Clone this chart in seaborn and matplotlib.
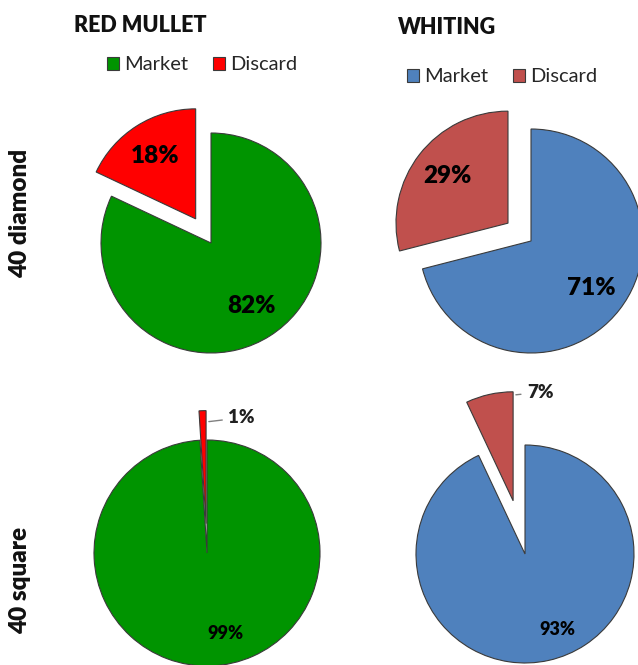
import matplotlib.pyplot as plt
import seaborn as sns
from matplotlib.patches import Patch
import numpy as np

sns.set_theme(style="white")
plt.rcParams['font.family'] = ['Lato', 'DejaVu Sans']

# data
species = ["RED MULLET", "WHITING"]
meshes = ["40 diamond", "40 square"]
categories = ["Market", "Discard"]
red_mullet = [[82, 18], [99, 1]]
whiting = [[71, 29], [93, 7]]

W, H = 638, 665
fig = plt.figure(figsize=(W / 100, H / 100), dpi=100)

colors = {"RED MULLET": ["#009400", "#FF0000"],
          "WHITING": ["#4F81BD", "#C0504D"]}
edge = "#3a3a3a"

# pie centre (px, from top left), radius px, explode of discard slice
layout = [[(211, 243, 110, 0.26), (531, 241, 112, 0.26)],
          [(207, 553, 113, 0.26), (525, 554, 109, 0.50)]]


def pie_axes(cx, cy, r, lim=1.7):
    ax = fig.add_axes([(cx - lim * r) / W, 1 - (cy + lim * r) / H,
                       2 * lim * r / W, 2 * lim * r / H])
    return ax, lim


for j, name in enumerate(species):
    values = red_mullet if name == "RED MULLET" else whiting
    for i, mesh in enumerate(meshes):
        cx, cy, r, ex = layout[i][j]
        ax, lim = pie_axes(cx, cy, r)
        big = i == 0
        wedges, _, pcts = ax.pie(
            values[i], colors=colors[name], startangle=90, counterclock=False,
            explode=[0, ex], autopct="%d%%",
            pctdistance=0.68 if big else 0.74,
            wedgeprops=dict(edgecolor=edge, linewidth=0.8),
            textprops=dict(fontsize=17.5 if big else 13, fontweight="heavy",
                           color="black"))
        ax.set_xlim(-lim, lim)
        ax.set_ylim(-lim, lim)
        ax.axis("off")
        if not big:
            # small discard share: label outside with a leader line
            pcts[1].set_text("")
            w = wedges[1]
            th = np.deg2rad(w.theta1)
            rr = 0.9 if values[i][1] < 5 else 0.97
            xy = (w.center[0] + rr * np.cos(th), w.center[1] + rr * np.sin(th))
            off = (16, 3) if values[i][1] < 5 else (10, 2)
            ax.annotate(f"{values[i][1]}%", xy=xy, xytext=off,
                        textcoords="offset points", ha="left", va="center",
                        fontsize=13.5, fontweight="heavy", color="#202020",
                        arrowprops=dict(arrowstyle="-", color="#808080", lw=1))
            # move the market label a bit to the right, as in the source
            x, y = pcts[0].get_position()
            pcts[0].set_position((x + 0.14, y + 0.03))

    # species title and legend
    tx = [140, 447][j]
    ty = [26, 27][j]
    fig.text(tx / W, 1 - ty / H, name, ha="center", va="center",
             fontsize=15.5, fontweight="heavy", color="#111111")
    handles = [Patch(facecolor=c, edgecolor=edge, linewidth=0.8)
               for c in colors[name]]
    lx = [202, 502][j]
    ly = [65, 77][j]
    fig.legend(handles, categories, loc="center", ncol=2, frameon=False,
               bbox_to_anchor=(lx / W, 1 - ly / H), fontsize=14.5,
               handlelength=0.6, handleheight=0.6, handletextpad=0.28,
               columnspacing=1.2, borderpad=0)

# row labels
for mesh, y in zip(meshes, [213, 580]):
    fig.text(20 / W, 1 - y / H, mesh, rotation=90, ha="center", va="center",
             fontsize=17.5, fontweight="heavy", color="#111111")

plt.savefig("out.png", dpi=100)
